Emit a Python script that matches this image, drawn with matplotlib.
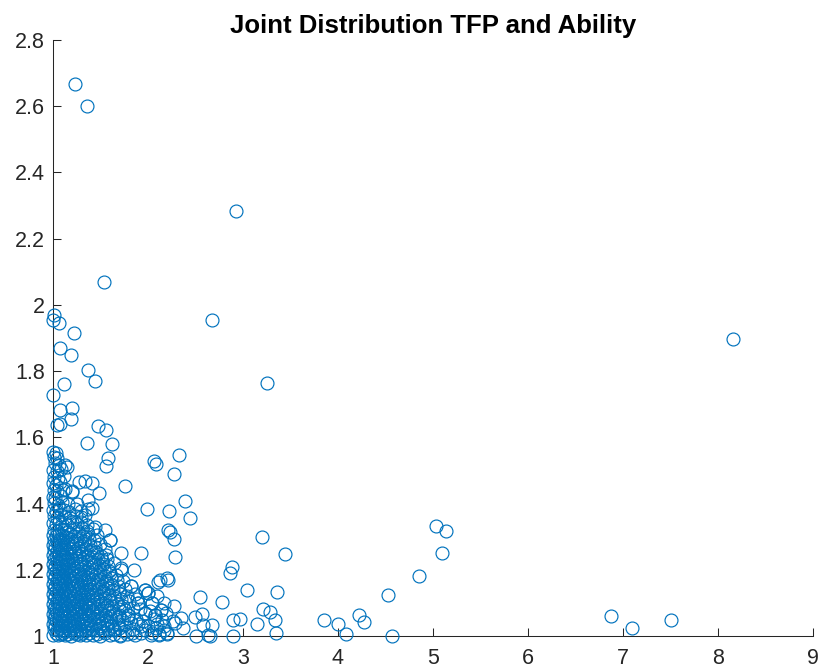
import matplotlib
matplotlib.use("Agg")
import matplotlib.pyplot as plt
from matplotlib.ticker import FormatStrFormatter

plt.rcParams['font.family'] = ['Liberation Sans', 'DejaVu Sans']

# TFP (x) and ability (y)
tfp = [
    # dense band near the corner
    1.00, 1.03, 1.05, 1.08, 1.11, 1.13, 1.16, 1.19, 1.22, 1.25, 1.28, 1.31, 1.35, 1.38, 1.42, 1.46, 1.50, 1.55, 1.60, 1.64, 1.71, 1.78, 1.86, 1.93, 2.03, 2.12, 2.20,
    1.01, 1.04, 1.07, 1.09, 1.12, 1.15, 1.18, 1.21, 1.24, 1.27, 1.30, 1.34, 1.37, 1.41, 1.45, 1.49, 1.53, 1.58, 1.64, 1.70, 1.76, 1.84, 1.97, 2.08, 2.17,
    1.00, 1.02, 1.05, 1.08, 1.10, 1.13, 1.17, 1.20, 1.23, 1.26, 1.29, 1.33, 1.36, 1.40, 1.44, 1.48, 1.52, 1.57, 1.62, 1.68, 1.75, 1.82, 1.90, 2.00, 2.10,
    1.01, 1.03, 1.06, 1.09, 1.11, 1.14, 1.16, 1.19, 1.22, 1.25, 1.28, 1.32, 1.35, 1.39, 1.43, 1.47, 1.51, 1.56, 1.61, 1.66, 1.73, 1.79, 1.87, 1.95, 2.06, 2.15, 2.26,
    1.00, 1.02, 1.04, 1.07, 1.10, 1.12, 1.15, 1.18, 1.21, 1.24, 1.27, 1.30, 1.34, 1.38, 1.42, 1.46, 1.50, 1.55, 1.60, 1.65, 1.70, 1.79, 1.97, 2.07,
    1.01, 1.03, 1.06, 1.08, 1.11, 1.14, 1.17, 1.20, 1.23, 1.26, 1.29, 1.33, 1.37, 1.41, 1.45, 1.49, 1.54, 1.59, 1.63, 1.69, 1.76, 1.84, 1.92, 2.02, 2.14,
    1.00, 1.02, 1.05, 1.07, 1.10, 1.13, 1.16, 1.19, 1.22, 1.25, 1.28, 1.31, 1.35, 1.39, 1.43, 1.47, 1.52, 1.57, 1.62, 1.68, 1.74, 1.90, 2.04,
    1.01, 1.04, 1.06, 1.09, 1.12, 1.15, 1.18, 1.21, 1.24, 1.27, 1.30, 1.34, 1.38, 1.42, 1.46, 1.50, 1.55, 1.60, 1.66, 1.72, 1.80, 1.88, 2.00,
    1.00, 1.02, 1.05, 1.08, 1.10, 1.13, 1.16, 1.19, 1.23, 1.26, 1.29, 1.33, 1.37, 1.41, 1.45, 1.49, 1.54, 1.59, 1.64, 1.71, 1.78, 1.86,
    1.01, 1.03, 1.06, 1.09, 1.12, 1.14, 1.17, 1.20, 1.24, 1.27, 1.31, 1.35, 1.39, 1.43, 1.48, 1.53, 1.58, 1.63, 1.69, 1.76, 1.97,
    1.00, 1.02, 1.05, 1.07, 1.10, 1.13, 1.16, 1.19, 1.22, 1.26, 1.30, 1.34, 1.38, 1.42, 1.47, 1.52, 1.57, 1.62, 1.68, 1.82,
    1.01, 1.04, 1.06, 1.09, 1.12, 1.15, 1.18, 1.21, 1.25, 1.29, 1.33, 1.37, 1.41, 1.46, 1.51, 1.56, 1.61, 1.67, 1.74,
    1.00, 1.02, 1.05, 1.08, 1.11, 1.14, 1.17, 1.20, 1.24, 1.28, 1.32, 1.36, 1.40, 1.45, 1.50, 1.55, 1.60, 1.66,
    1.01, 1.03, 1.06, 1.09, 1.12, 1.15, 1.19, 1.22, 1.26, 1.30, 1.34, 1.39, 1.44, 1.49, 1.54, 1.59, 1.72, 1.85,
    1.00, 1.02, 1.05, 1.08, 1.11, 1.14, 1.17, 1.21, 1.25, 1.29, 1.33, 1.38, 1.43, 1.48, 1.53, 1.58, 1.64,
    1.01, 1.04, 1.07, 1.10, 1.13, 1.16, 1.20, 1.24, 1.28, 1.32, 1.37, 1.42, 1.47, 1.52, 1.57,
    1.00, 1.03, 1.06, 1.09, 1.12, 1.15, 1.19, 1.23, 1.27, 1.31, 1.36, 1.41, 1.46, 1.51, 1.56,
    1.01, 1.04, 1.07, 1.10, 1.14, 1.18, 1.22, 1.26, 1.30, 1.35, 1.40, 1.45, 1.55,
    1.00, 1.02, 1.05, 1.08, 1.12, 1.16, 1.20, 1.24, 1.29, 1.34, 1.39, 1.44, 1.50,
    1.01, 1.04, 1.07, 1.11, 1.15, 1.19, 1.23, 1.28, 1.33, 1.38, 1.43, 1.60,
    1.00, 1.03, 1.06, 1.10, 1.14, 1.18, 1.22, 1.27, 1.32, 1.37, 1.46,
    1.01, 1.04, 1.08, 1.12, 1.16, 1.21, 1.26, 1.31, 1.36, 1.42, 1.55,
    1.00, 1.03, 1.06, 1.10, 1.15, 1.20, 1.25, 1.30, 1.36, 1.44,
    1.01, 1.04, 1.08, 1.13, 1.18, 1.24, 1.29, 1.34,
    1.00, 1.03, 1.07, 1.12, 1.17, 1.23, 1.30, 1.37, 1.41,
    # thinner column along the y axis
    1.01, 1.05, 1.10, 1.16, 1.25, 1.37, 1.00, 1.02, 1.08, 1.11, 1.20, 1.48, 1.01, 1.04, 1.13, 1.20, 1.00, 1.03,
    1.07, 1.27, 1.34, 1.41, 1.01, 1.05, 1.12, 1.00, 1.04, 1.08, 1.02, 1.06, 1.13, 1.01, 1.04, 1.00, 1.03,
    # scattered points
    1.23, 1.355, 2.923, 1.537, 2.67, 8.16, 3.25,
    1.01, 1.00, 1.06, 1.22, 1.07, 1.19, 1.365, 1.44, 1.116, 1.00, 1.07, 1.20, 1.19, 1.045, 1.07, 1.477, 1.555,
    1.62, 1.355, 1.58, 1.555, 2.06, 2.08, 2.33, 2.27, 1.758, 2.39, 1.986, 2.22, 2.44, 2.21, 2.27, 1.93, 2.28,
    2.88, 2.86, 2.20, 2.11, 2.55, 2.78, 2.90, 2.49, 3.20, 3.44, 3.04, 3.36, 3.21, 3.28, 3.34, 3.15, 2.97, 3.35,
    2.89, 3.85, 4.00, 4.08, 4.22, 4.27, 2.57, 2.67, 2.58, 2.63, 2.51, 2.65, 2.35, 2.37,
    5.03, 5.14, 5.10, 4.85, 4.53, 4.57, 6.87, 7.09, 7.51,
    2.23, 1.716, 1.60, 2.126, 2.21, 1.97, 1.82, 1.72, 1.90, 2.04, 2.14, 2.19, 2.07, 1.97, 1.79, 1.70,
    1.83, 2.04, 2.12, 2.20, 1.71, 1.64, 1.93, 2.00, 2.10, 2.17, 2.27, 2.28, 2.17, 1.15,
]

ability = [
    1.004, 1.008, 1.002, 1.006, 1.010, 1.003, 1.007, 1.001, 1.009, 1.005, 1.002, 1.008, 1.004, 1.010, 1.003, 1.006, 1.001, 1.009, 1.004, 1.007, 1.002, 1.006, 1.003, 1.008, 1.004, 1.002, 1.007,
    1.021, 1.017, 1.024, 1.019, 1.015, 1.023, 1.018, 1.025, 1.016, 1.022, 1.019, 1.014, 1.024, 1.020, 1.017, 1.023, 1.015, 1.021, 1.018, 1.024, 1.016, 1.022, 1.019, 1.025, 1.017,
    1.036, 1.032, 1.039, 1.034, 1.030, 1.038, 1.033, 1.040, 1.031, 1.037, 1.035, 1.029, 1.038, 1.033, 1.036, 1.031, 1.039, 1.034, 1.030, 1.037, 1.032, 1.038, 1.035, 1.031, 1.036,
    1.051, 1.047, 1.054, 1.049, 1.045, 1.053, 1.048, 1.055, 1.046, 1.052, 1.050, 1.044, 1.053, 1.048, 1.051, 1.046, 1.054, 1.049, 1.045, 1.052, 1.047, 1.053, 1.050, 1.046, 1.051, 1.048, 1.044,
    1.066, 1.062, 1.069, 1.064, 1.060, 1.068, 1.063, 1.070, 1.061, 1.067, 1.065, 1.059, 1.068, 1.063, 1.066, 1.061, 1.069, 1.064, 1.060, 1.067, 1.062, 1.064, 1.070, 1.064,
    1.081, 1.077, 1.084, 1.079, 1.075, 1.083, 1.078, 1.085, 1.076, 1.082, 1.080, 1.074, 1.083, 1.078, 1.081, 1.076, 1.084, 1.079, 1.075, 1.082, 1.077, 1.083, 1.080, 1.076, 1.079,
    1.096, 1.092, 1.099, 1.094, 1.090, 1.098, 1.093, 1.100, 1.091, 1.097, 1.095, 1.089, 1.098, 1.093, 1.096, 1.091, 1.099, 1.094, 1.090, 1.097, 1.092, 1.099, 1.099,
    1.111, 1.107, 1.114, 1.109, 1.105, 1.113, 1.108, 1.115, 1.106, 1.112, 1.110, 1.104, 1.113, 1.108, 1.111, 1.106, 1.114, 1.109, 1.105, 1.112, 1.107, 1.113, 1.130,
    1.126, 1.122, 1.129, 1.124, 1.120, 1.128, 1.123, 1.130, 1.121, 1.127, 1.125, 1.119, 1.128, 1.123, 1.126, 1.121, 1.129, 1.124, 1.120, 1.127, 1.122, 1.128,
    1.141, 1.137, 1.144, 1.139, 1.135, 1.143, 1.138, 1.145, 1.136, 1.142, 1.140, 1.134, 1.143, 1.138, 1.141, 1.136, 1.144, 1.139, 1.135, 1.142, 1.139,
    1.156, 1.152, 1.159, 1.154, 1.150, 1.158, 1.153, 1.160, 1.151, 1.157, 1.155, 1.149, 1.158, 1.153, 1.156, 1.151, 1.159, 1.154, 1.150, 1.150,
    1.171, 1.167, 1.174, 1.169, 1.165, 1.173, 1.168, 1.175, 1.166, 1.172, 1.170, 1.164, 1.173, 1.168, 1.171, 1.166, 1.174, 1.169, 1.165,
    1.186, 1.182, 1.189, 1.184, 1.180, 1.188, 1.183, 1.190, 1.181, 1.187, 1.185, 1.179, 1.188, 1.183, 1.186, 1.181, 1.189, 1.184,
    1.201, 1.197, 1.204, 1.199, 1.195, 1.203, 1.198, 1.205, 1.196, 1.202, 1.200, 1.194, 1.203, 1.198, 1.201, 1.196, 1.204, 1.199,
    1.216, 1.212, 1.219, 1.214, 1.210, 1.218, 1.213, 1.220, 1.211, 1.217, 1.215, 1.209, 1.218, 1.213, 1.216, 1.211, 1.219,
    1.231, 1.227, 1.234, 1.229, 1.225, 1.233, 1.228, 1.235, 1.226, 1.232, 1.230, 1.224, 1.233, 1.228, 1.231,
    1.246, 1.242, 1.249, 1.244, 1.240, 1.248, 1.243, 1.250, 1.241, 1.247, 1.245, 1.239, 1.248, 1.243, 1.246,
    1.261, 1.257, 1.264, 1.259, 1.255, 1.263, 1.258, 1.265, 1.256, 1.262, 1.260, 1.254, 1.263,
    1.276, 1.272, 1.279, 1.274, 1.270, 1.278, 1.273, 1.280, 1.271, 1.277, 1.275, 1.269, 1.278,
    1.291, 1.287, 1.294, 1.289, 1.285, 1.293, 1.288, 1.295, 1.286, 1.292, 1.290, 1.290,
    1.306, 1.302, 1.309, 1.304, 1.300, 1.308, 1.303, 1.310, 1.301, 1.307, 1.305,
    1.321, 1.317, 1.324, 1.319, 1.315, 1.323, 1.318, 1.325, 1.316, 1.322, 1.320,
    1.341, 1.337, 1.344, 1.339, 1.335, 1.343, 1.338, 1.345, 1.336, 1.330,
    1.361, 1.357, 1.364, 1.359, 1.355, 1.363, 1.358, 1.366,
    1.381, 1.377, 1.384, 1.379, 1.375, 1.383, 1.378, 1.385, 1.386,
    1.401, 1.397, 1.404, 1.399, 1.400, 1.410, 1.421, 1.417, 1.424, 1.441, 1.436, 1.431, 1.441, 1.437, 1.444, 1.439, 1.461, 1.457,
    1.464, 1.466, 1.468, 1.463, 1.481, 1.477, 1.484, 1.501, 1.497, 1.504, 1.521, 1.517, 1.515, 1.541, 1.537, 1.556, 1.552,
    2.668, 2.600, 2.282, 2.069, 1.955, 1.897, 1.764,
    1.970, 1.953, 1.945, 1.914, 1.869, 1.849, 1.804, 1.771, 1.761, 1.728, 1.681, 1.688, 1.655, 1.637, 1.640, 1.634, 1.622,
    1.580, 1.582, 1.537, 1.514, 1.527, 1.520, 1.547, 1.489, 1.453, 1.409, 1.383, 1.376, 1.357, 1.320, 1.292, 1.250, 1.238,
    1.209, 1.190, 1.174, 1.164, 1.119, 1.102, 1.048, 1.058, 1.298, 1.248, 1.139, 1.133, 1.082, 1.073, 1.048, 1.035, 1.051, 1.008,
    1.000, 1.047, 1.035, 1.006, 1.063, 1.043, 1.066, 1.033, 1.033, 1.003, 1.000, 1.000, 1.053, 1.024,
    1.332, 1.316, 1.252, 1.181, 1.123, 1.000, 1.060, 1.025, 1.048,
    1.315, 1.250, 1.290, 1.169, 1.169, 1.139, 1.150, 1.200, 1.099, 1.099, 1.078, 1.070, 1.064, 1.070, 1.064, 1.058,
    1.008, 1.008, 1.005, 1.008, 1.000, 1.020, 1.030, 1.130, 1.120, 1.100, 1.090, 1.040, 1.030, 1.510,
]

title = 'Joint Distribution TFP and Ability'
x_ticks = [1, 2, 3, 4, 5, 6, 7, 8, 9]
y_ticks = [1, 1.2, 1.4, 1.6, 1.8, 2, 2.2, 2.4, 2.6, 2.8]

matlab_blue = '#0072BD'
axis_grey = '#262626'

fig = plt.figure(figsize=(8.2, 6.72), dpi=100)
ax = fig.add_axes([0.0646, 0.0536, 0.9268, 0.8869])

ax.plot(tfp, ability, linestyle='none', marker='o', markersize=9.3,
        markerfacecolor='none', markeredgecolor=matlab_blue,
        markeredgewidth=0.85, clip_on=False)

ax.set_xlim(1, 9)
ax.set_ylim(1, 2.8)
ax.set_xticks(x_ticks)
ax.set_yticks(y_ticks)
ax.yaxis.set_major_formatter(FormatStrFormatter('%g'))
ax.xaxis.set_major_formatter(FormatStrFormatter('%g'))

ax.spines['top'].set_visible(False)
ax.spines['right'].set_visible(False)
for s in ['left', 'bottom']:
    ax.spines[s].set_color(axis_grey)
    ax.spines[s].set_linewidth(0.75)
    ax.spines[s].set_zorder(0.5)

ax.tick_params(direction='in', length=5.5, width=0.75, colors=axis_grey,
               labelsize=15.5)
ax.tick_params(axis='x', pad=9)
ax.tick_params(axis='y', pad=6)

ax.set_title(title, fontsize=18.5, fontweight='bold', pad=5)

fig.savefig('out.png', dpi=100)
